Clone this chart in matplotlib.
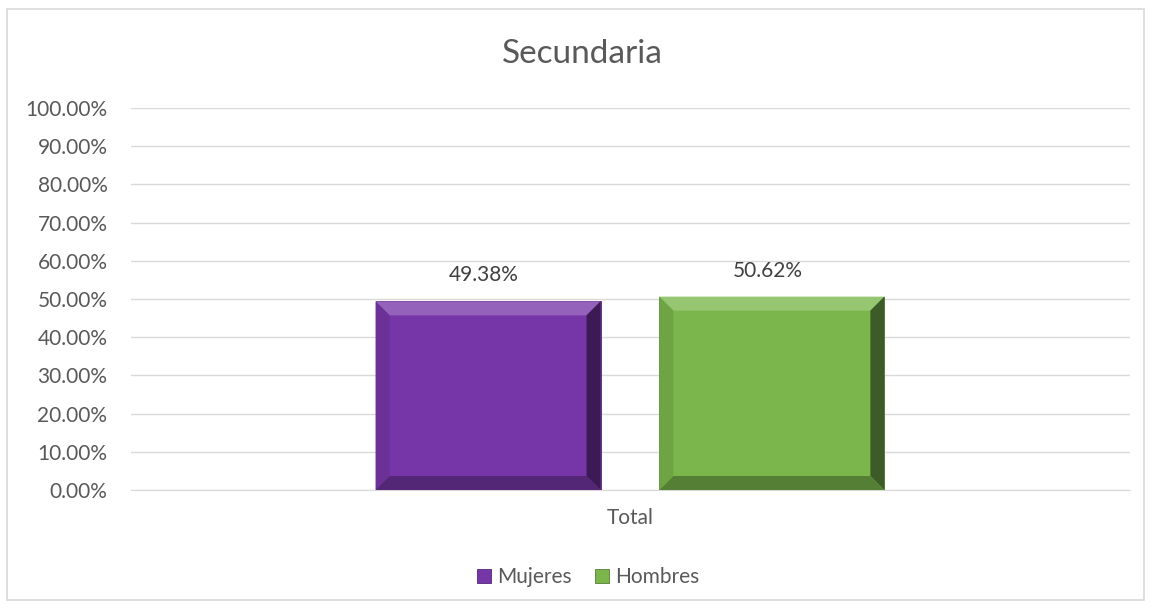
import matplotlib
matplotlib.use("Agg")
import matplotlib.pyplot as plt
from matplotlib.patches import Polygon, Rectangle
from matplotlib.ticker import FuncFormatter, MultipleLocator
import matplotlib.colors as mc

plt.rcParams['font.family'] = ['Lato', 'DejaVu Sans']

title = "Secundaria"
category = "Total"
series = ["Mujeres", "Hombres"]
values = [49.38, 50.62]
colors = ["#7736A8", "#7AB64C"]

W, H = 1152, 608
fig = plt.figure(figsize=(W / 100, H / 100), dpi=100)
ax = fig.add_axes([131 / W, 1 - 490 / H, (1130 - 131) / W, (490 - 108) / H])
ax.set_xlim(-0.5, 0.5)
ax.set_ylim(0, 100)

bar_w = 0.2252
offsets = [-0.1426, 0.1415]

px_x = (1130 - 131) / 1.0   # pixels per x unit
px_y = (490 - 108) / 100.0  # pixels per y unit
bev = 14  # pixels

def shade(c, f):
    r, g, b = mc.to_rgb(c)
    if f >= 0:
        return (r + (1 - r) * f, g + (1 - g) * f, b + (1 - b) * f)
    return (r * (1 + f), g * (1 + f), b * (1 + f))

for name, v, c, off in zip(series, values, colors, offsets):
    bars = ax.bar(off, v, width=bar_w, color=c, label=name, zorder=3,
                  edgecolor=shade(c, -0.3), linewidth=0.6)
    b = bars[0]
    x0, x1 = b.get_x(), b.get_x() + b.get_width()
    y0, y1 = 0, b.get_height()
    bx, by = bev / px_x, bev / px_y
    # top (light)
    ax.add_patch(Polygon([(x0, y1), (x1, y1), (x1 - bx, y1 - by), (x0 + bx, y1 - by)],
                         closed=True, color=shade(c, 0.22), lw=0, zorder=4))
    # right (dark)
    ax.add_patch(Polygon([(x1, y1), (x1, y0), (x1 - bx, y0 + by), (x1 - bx, y1 - by)],
                         closed=True, color=shade(c, -0.5), lw=0, zorder=4))
    # bottom (dark)
    ax.add_patch(Polygon([(x0, y0), (x1, y0), (x1 - bx, y0 + by), (x0 + bx, y0 + by)],
                         closed=True, color=shade(c, -0.3), lw=0, zorder=4))
    # left (slightly dark)
    ax.add_patch(Polygon([(x0, y0), (x0, y1), (x0 + bx, y1 - by), (x0 + bx, y0 + by)],
                         closed=True, color=shade(c, -0.1), lw=0, zorder=4))
    ax.text(off - 0.004, v + 4.2, f"{v:.2f}%", ha="center", va="bottom",
            fontsize=15, color="#404040", zorder=5)

ax.yaxis.set_major_locator(MultipleLocator(10))
ax.yaxis.set_major_formatter(FuncFormatter(lambda y, p: f"{y:.2f}%"))
ax.grid(axis="y", color="#D9D9D9", linewidth=1, zorder=0)
ax.set_axisbelow(True)
for s in ["top", "right", "left"]:
    ax.spines[s].set_visible(False)
ax.spines["bottom"].set_color("#D9D9D9")
ax.tick_params(axis="y", length=0, labelsize=15, labelcolor="#595959", pad=17)
ax.set_xticks([0])
ax.set_xticklabels([category])
ax.tick_params(axis="x", length=0, labelsize=15, labelcolor="#595959", pad=13)

fig.text(582 / W, 1 - 54 / H, title, ha="center", va="center",
         fontsize=24, color="#595959")

leg = fig.legend(loc="center", bbox_to_anchor=(588 / W, 1 - 577 / H), ncol=2,
                 frameon=False, fontsize=15, handlelength=0.67, handleheight=0.67,
                 handletextpad=0.3, columnspacing=1.1, labelcolor="#595959")

# outer chart border
fig.add_artist(Rectangle((7 / W, 1 - 600 / H), (1144 - 7) / W, (600 - 9) / H,
                         transform=fig.transFigure, fill=False,
                         edgecolor="#D9D9D9", linewidth=1.2))

fig.savefig("out.png", dpi=100, facecolor="white")
